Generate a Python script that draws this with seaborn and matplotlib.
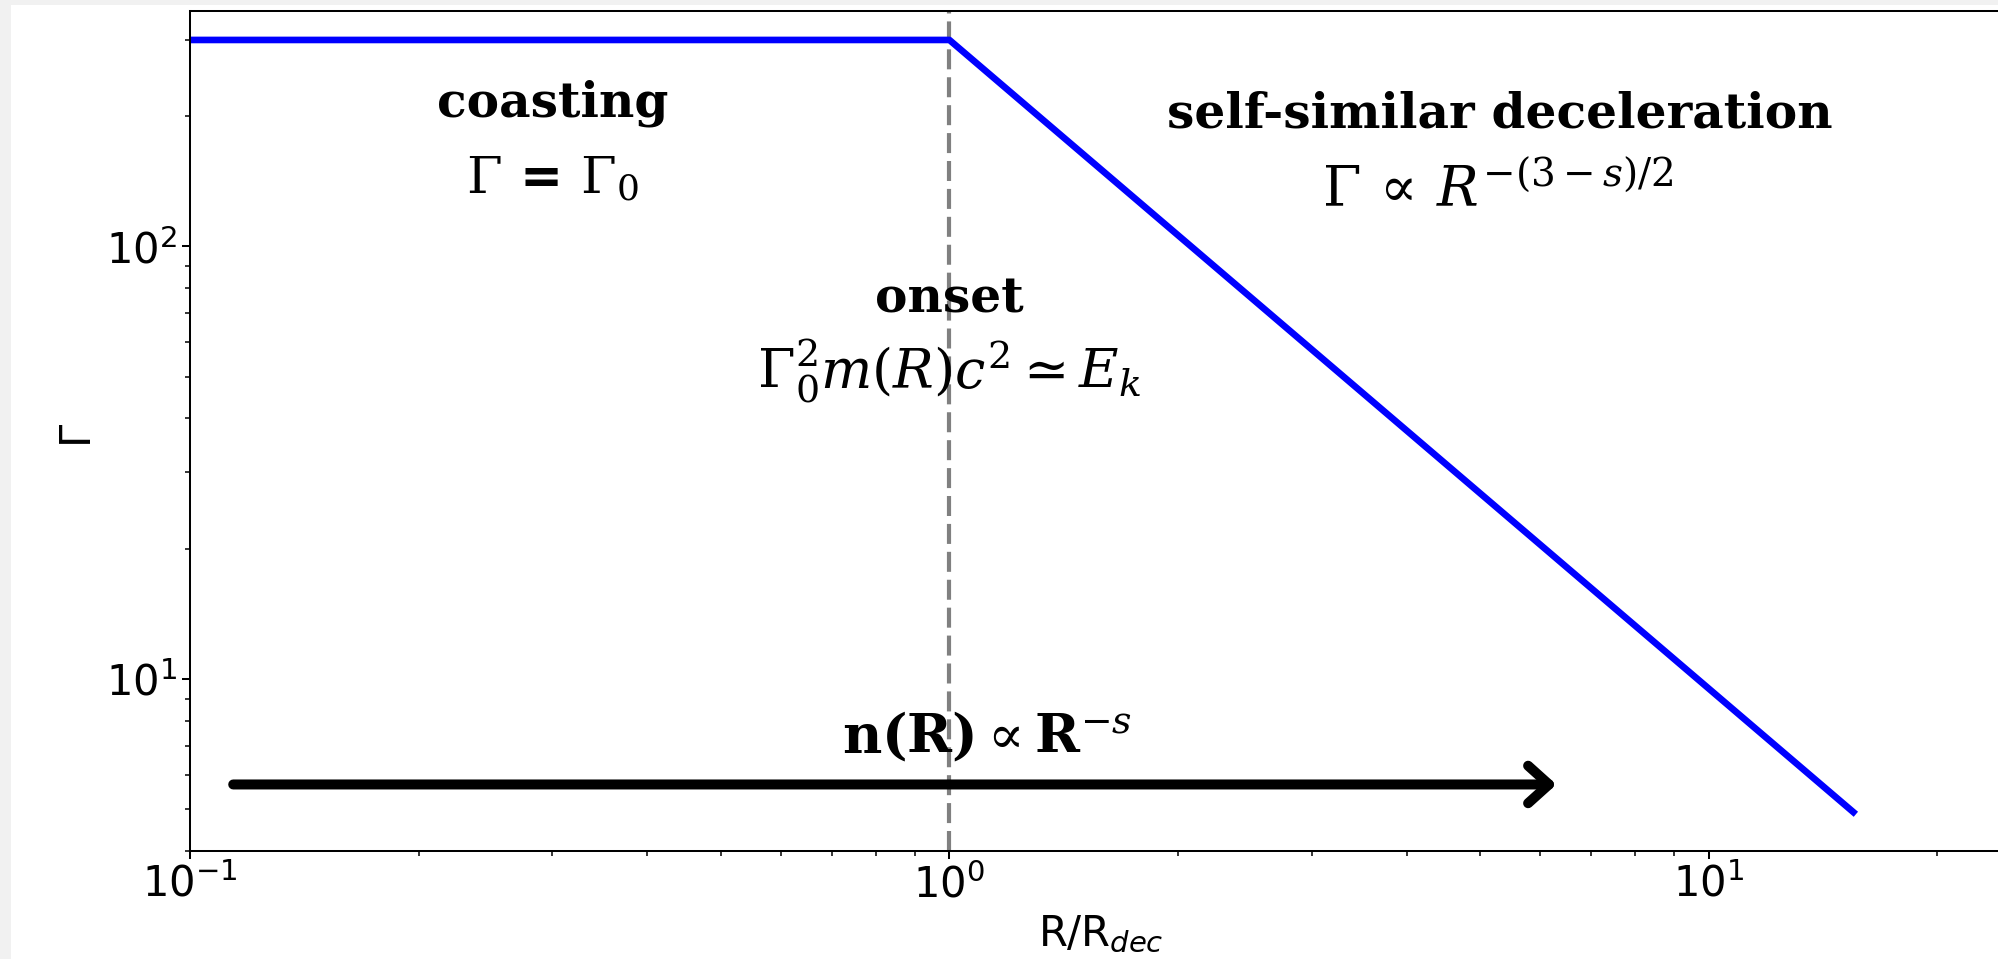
import matplotlib
matplotlib.use("Agg")
import matplotlib.pyplot as plt
from matplotlib.patches import Rectangle
import seaborn as sns

# Lorentz factor of the blast wave: coasting, then self-similar deceleration
radius = [0.1, 1.0, 15.5]        # R / R_dec
lorentz = [300.0, 300.0, 4.92]   # Gamma

onset_radius = 1.0               # deceleration radius
density_arrow_x = [0.114, 6.3]   # extent of the n(R) arrow
density_arrow_y = 5.7

x_limits = (0.1, 25)
y_limits = (4, 350)

plt.rcParams.update({
    "axes.linewidth": 1.45,
    "xtick.major.size": 5.8, "ytick.major.size": 5.8,
    "xtick.major.width": 1.45, "ytick.major.width": 1.45,
    "xtick.minor.size": 3.4, "ytick.minor.size": 3.4,
    "xtick.minor.width": 1.1, "ytick.minor.width": 1.1,
    "xtick.labelsize": 30, "ytick.labelsize": 30,
    "axes.labelsize": 30,
})

W, H = 1998, 959
fig = plt.figure(figsize=(W / 100, H / 100), dpi=100)
fig.patch.set_facecolor("#f1f1f1")
fig.add_artist(Rectangle((11 / W, 0), 1, 1 - 5 / H, transform=fig.transFigure,
                         facecolor="white", edgecolor="none", zorder=-10))

ax = fig.add_axes([190 / W, 108 / H, (2011 - 190) / W, 840 / H])

sns.lineplot(x=radius, y=lorentz, ax=ax, color="blue", lw=4.8,
             estimator=None, sort=False, legend=False)
ax.set_xscale("log")
ax.set_yscale("log")
ax.set_xlim(*x_limits)
ax.set_ylim(*y_limits)

ax.axvline(onset_radius, color="gray", lw=3, ls=(0, (4.8, 1.9)), zorder=1)

ax.annotate("", xy=(density_arrow_x[1], density_arrow_y),
            xytext=(density_arrow_x[0], density_arrow_y),
            arrowprops=dict(arrowstyle="->,head_length=0.5,head_width=0.45",
                            lw=7.2, color="black", shrinkA=0, shrinkB=0,
                            mutation_scale=30, capstyle="round",
                            joinstyle="round"))

serif_bold = dict(ha="center", va="baseline", fontsize=35,
                  fontweight="bold", family="DejaVu Serif")
math_kw = dict(ha="center", va="baseline", fontsize=39,
               math_fontfamily="dejavuserif")

ax.text(0.3, 200, "coasting", **serif_bold)
ax.text(0.3, 132, r"$\Gamma$ = $\Gamma_0$", fontweight="bold",
        **{**math_kw, "fontsize": 37})

ax.text(5.3, 188, "self-similar deceleration", **serif_bold)
ax.text(5.27, 123.5, r"$\Gamma \,\propto\, R^{-(3-s)/2}$",
        **{**math_kw, "fontsize": 40})

ax.text(1.0, 70.3, "onset", **serif_bold)
ax.text(1.0, 46.8, r"$\Gamma_0^2 m(R) c^2 \simeq E_k$", **math_kw)

ax.text(1.12, 6.74, r"$\mathbf{n(R)} \propto \mathbf{R}^{-s}$", **math_kw)

ax.set_xlabel(r"R/R$_{dec}$", labelpad=5)
ax.set_ylabel("Γ", labelpad=7.5)

fig.savefig("out.png", dpi=100)
